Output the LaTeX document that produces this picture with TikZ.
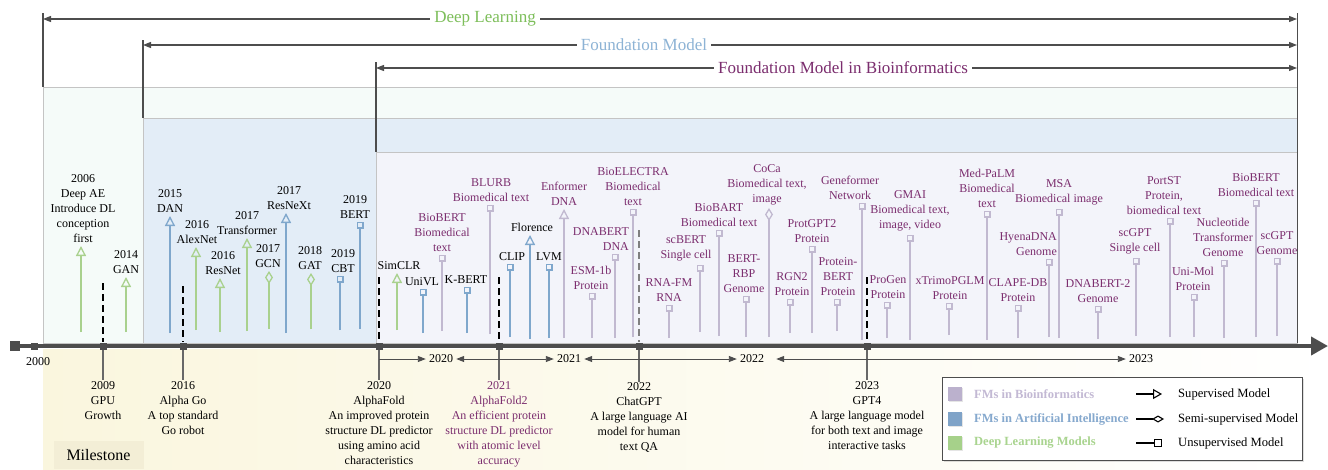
\documentclass[tikz,border=0pt]{standalone}
\usepackage{fontspec}
\setmainfont{Liberation Serif}
\usepackage{tikz}
\usetikzlibrary{arrows.meta,shadows}

\definecolor{dlgreen}{HTML}{A9D18E}
\definecolor{dltext}{HTML}{7DBE5A}
\definecolor{aiblue}{HTML}{7FA7CC}
\definecolor{aitext}{HTML}{8DB3D5}
\definecolor{biogray}{HTML}{C1B9D0}
\definecolor{bioplum}{HTML}{7B2D6E}
\definecolor{mintbg}{HTML}{F5FBF9}
\definecolor{bluebg}{HTML}{E3EDF7}
\definecolor{lavbg}{HTML}{F3F4FA}
\definecolor{creambg}{HTML}{FAF6DE}
\definecolor{milebg}{HTML}{F3EED6}
\definecolor{axisgray}{HTML}{4D4D4D}
\definecolor{framegray}{HTML}{C4C4C4}
\definecolor{legbio}{HTML}{BBB1CD}
\definecolor{legai}{HTML}{7FA3C8}
\definecolor{legdl}{HTML}{A6D18A}
\definecolor{legbiotxt}{HTML}{C3B9D4}
\definecolor{legaitxt}{HTML}{86A9CE}
\definecolor{legdltxt}{HTML}{A9D48F}

\begin{document}
\begin{tikzpicture}[x=1pt,y=-1pt,
    >={Triangle[length=8pt,width=6pt]},
    stem/.style={line width=1.3pt},
    dlstem/.style={stem,draw=dlgreen},
    aistem/.style={stem,draw=aiblue},
    biostem/.style={stem,draw=biogray},
    tri/.style={-{Triangle[open,length=10pt,width=10pt]}},
    dia/.style={-{Turned Square[open,length=13pt,width=8pt]}},
    sq/.style={-{Square[open,length=7pt,width=7pt]}},
    lab/.style={font=\fontsize{12}{15}\selectfont,align=center,anchor=south,inner sep=2.5pt},
    biolab/.style={lab,text=bioplum},
    span/.style={draw=axisgray,line width=1.1pt},
    spantxt/.style={font=\fontsize{17}{19}\selectfont,fill=white,inner sep=4pt},
    mile/.style={fill=axisgray,minimum size=7pt,inner sep=0pt},
    mline/.style={draw=axisgray!85,line width=1.2pt},
    mtxt/.style={font=\fontsize{12}{15}\selectfont,align=center,anchor=north,inner sep=1pt},
    dashln/.style={line width=1.5pt,dash pattern=on 7pt off 4pt},
    yr/.style={draw=axisgray,line width=0.9pt},
    yrtxt/.style={font=\fontsize{12}{14}\selectfont,inner sep=3pt},
    legtxt/.style={font=\fontsize{12.6}{14}\selectfont,anchor=west,inner sep=0pt},
    legbold/.style={font=\bfseries\fontsize{12.5}{14}\selectfont,anchor=west,inner sep=0pt},
    legline/.style={draw=black,line width=1.1pt}]
\useasboundingbox (0,0) rectangle (1328,469);

% background bands
\fill[left color=creambg,right color=white] (43,349) rectangle (1328,469);
\filldraw[fill=mintbg,draw=framegray] (43,87) rectangle (1297,343);
\filldraw[fill=bluebg,draw=framegray] (143,118) rectangle (1297,343);
\filldraw[fill=lavbg,draw=framegray] (376,152) rectangle (1297,343);
\node[fill=milebg,minimum width=90pt,minimum height=28pt,inner sep=0pt,font=\fontsize{16}{18}\selectfont] (milestone) at (98.5,455) {Milestone};

% spans on top
\coordinate (dlL) at (43,19);  \coordinate (dlR) at (1297,19);
\coordinate (fmL) at (143,45); \coordinate (fmR) at (1297,45);
\coordinate (fbL) at (376,68); \coordinate (fbR) at (1297,68);
\draw[span] (43,13) -- (43,87);
\draw[span] (143,40) -- (143,118);
\draw[span] (376,62) -- (376,152);
\draw[span,line width=0.8pt] (1297,13) -- (1297,343);
\draw[span,<->] (dlL) -- (dlR);
\draw[span,<->] (fmL) -- (fmR);
\draw[span,<->] (fbL) -- (fbR);
\node[spantxt,text=dltext] (dltitle) at (485,19) {Deep Learning};
\node[spantxt,text=aitext] (fmtitle) at (644,45) {Foundation Model};
\node[spantxt,text=bioplum] (fbtitle) at (843,68) {Foundation Model in Bioinformatics};

% deep learning models
\draw[dlstem,tri] (81,332) -- (81,246) node[lab] (deepae) at (83,246) {2006\\Deep AE\\Introduce DL\\conception\\first};
\draw[dlstem,tri] (126,332) -- (126,277) node[lab] (gan) at (126,277) {2014\\GAN};
\draw[dlstem,tri] (196,330) -- (196,247) node[lab] (alexnet) at (197,247) {2016\\AlexNet};
\draw[dlstem,tri] (220,332) -- (220,278) node[lab] (resnet) at (223,278) {2016\\ResNet};
\draw[dlstem,tri] (247,331) -- (247,238) node[lab] (transformer) at (247,238) {2017\\Transformer};
\draw[dlstem,dia] (269,329) -- (269,271) node[lab] (gcn) at (268,271) {2017\\GCN};
\draw[dlstem,dia] (311,329) -- (311,273) node[lab] (gat) at (310,273) {2018\\GAT};
\draw[dlstem,tri] (397,330) -- (397,273) node[lab] (simclr) at (399,273) {SimCLR};

% foundation models in AI
\draw[aistem,tri] (170,333) -- (170,216) node[lab] (dan) at (170,216) {2015\\DAN};
\draw[aistem,tri] (286,333) -- (286,213) node[lab] (resnext) at (289,213) {2017\\ResNeXt};
\draw[aistem,sq] (340,330) -- (340,275.5) node[lab] (cbt) at (343,275.5) {2019\\CBT};
\draw[aistem,sq] (360,329) -- (360,221.5) node[lab] (bert) at (355,221.5) {2019\\BERT};
\draw[aistem,sq] (423,333) -- (423,288.5) node[lab] (univl) at (422,288.5) {UniVL};
\draw[aistem,sq] (467,333) -- (467,286.5) node[lab] (kbert) at (466,286.5) {K-BERT};
\draw[aistem,sq] (510,337) -- (510,263.5) node[lab] (clip) at (512,263.5) {CLIP};
\draw[aistem,tri] (530,339) -- (530,235) node[lab] (florence) at (532,235) {Florence};
\draw[aistem,sq] (549,338) -- (549,263.5) node[lab] (lvm) at (549,263.5) {LVM};

% foundation models in bioinformatics
\draw[biostem,sq] (442,331) -- (442,254.5) node[biolab] (biobert) at (442,254.5) {BioBERT\\Biomedical\\text};
\draw[biostem,sq] (490,334) -- (490,204.5) node[biolab] (blurb) at (491,204.5) {BLURB\\Biomedical text};
\draw[biostem,tri] (564,338) -- (564,209) node[biolab] (enformer) at (564,209) {Enformer\\DNA};
\draw[biostem,sq] (592,338) -- (592,292.5) node[biolab] (esm) at (591,292.5) {ESM-1b\\Protein};
\draw[biostem,sq] (615,338) -- (615,253.5) node[biolab,align=right,anchor=south east] (dnabert) at (632,253.5) {DNABERT\\DNA};
\draw[biostem,sq] (633,337) -- (633,208.5) node[biolab] (bioelectra) at (633,208.5) {BioELECTRA\\Biomedical\\text};
\draw[biostem,sq] (669,338) -- (669,304.5) node[biolab] (rnafm) at (669,304.5) {RNA-FM\\RNA};
\draw[biostem,sq] (700,332) -- (700,264.5) node[biolab] (scbert) at (686,264.5) {scBERT\\Single cell};
\draw[biostem,sq] (719,336) -- (719,229.5) node[biolab] (biobart) at (719,229.5) {BioBART\\Biomedical text};
\draw[biostem,sq] (746,337) -- (746,295.5) node[biolab] (bertrbp) at (744,295.5) {BERT-\\RBP\\Genome};
\draw[biostem,dia] (769,337) -- (769,208) node[biolab] (coca) at (767,208) {CoCa\\Biomedical text,\\image};
\draw[biostem,sq] (790,333) -- (790,298.5) node[biolab] (rgn) at (792,298.5) {RGN2\\Protein};
\draw[biostem,sq] (812,333) -- (812,245.5) node[biolab] (protgpt) at (812,245.5) {ProtGPT2\\Protein};
\draw[biostem,sq] (837,331) -- (837,298.5) node[biolab] (proteinbert) at (838,298.5) {Protein-\\BERT\\Protein};
\draw[biostem,sq] (862,340) -- (862,202.5) node[biolab] (geneformer) at (850,202.5) {Geneformer\\Network};
\draw[biostem,sq] (887,338) -- (887,301.5) node[biolab] (progen) at (888,301.5) {ProGen\\Protein};
\draw[biostem,sq] (910,340) -- (910,234.5) node[biolab] (gmai) at (910,234.5) {GMAI\\Biomedical text,\\image, video};
\draw[biostem,sq] (949,335) -- (949,302.5) node[biolab] (xtrimo) at (950,302.5) {xTrimoPGLM\\Protein};
\draw[biostem,sq] (987,340) -- (987,210.5) node[biolab] (medpalm) at (987,210.5) {Med-PaLM\\Biomedical\\text};
\draw[biostem,sq] (1018,338) -- (1018,304.5) node[biolab] (clape) at (1018,304.5) {CLAPE-DB\\Protein};
\draw[biostem,sq] (1049,337) -- (1049,258.5) node[biolab,align=right,anchor=south east] (hyena) at (1060,258.5) {HyenaDNA\\Genome};
\draw[biostem,sq] (1059,338) -- (1059,208.5) node[biolab] (msa) at (1059,208.5) {MSA\\Biomedical image};
\draw[biostem,sq] (1098,339) -- (1098,305.5) node[biolab] (dnabert2) at (1098,305.5) {DNABERT-2\\Genome};
\draw[biostem,sq] (1136,336) -- (1136,257.5) node[biolab] (scgpt) at (1135,257.5) {scGPT\\Single cell};
\draw[biostem,sq] (1170,337) -- (1170,217.5) node[biolab] (portst) at (1164,217.5) {PortST\\Protein,\\biomedical text};
\draw[biostem,sq] (1194,337) -- (1194,293.5) node[biolab] (unimol) at (1193,293.5) {Uni-Mol\\Protein};
\draw[biostem,sq] (1224,338) -- (1224,259.5) node[biolab] (nucleotide) at (1223,259.5) {Nucleotide\\Transformer\\Genome};
\draw[biostem,sq] (1256,337) -- (1256,199.5) node[biolab] (biobert2) at (1256,199.5) {BioBERT\\Biomedical text};
\draw[biostem,sq] (1277,336) -- (1277,257.5) node[biolab] (scgpt2) at (1277,257.5) {scGPT\\Genome};

% time axis
\draw[draw=axisgray,line width=4pt,-{Triangle[length=17pt,width=18pt]}] (15,346) -- (1328,346);
\node[mile,minimum size=10pt] (m0) at (15,346) {};
\node[mile] (m2000) at (34.5,346) {};
\node[mile] (m2009) at (103,346) {};
\node[mile] (m2016) at (183,346) {};
\node[mile] (m2020) at (379,346) {};
\node[mile] (m2021) at (499,346) {};
\node[mile] (m2022) at (639,346) {};
\node[mile] (m2023) at (867,346) {};
\node[font=\fontsize{12}{14}\selectfont] (t2000) at (38,362) {2000};

% dashed markers
\draw[dashln] (103,283) -- (m2009);
\draw[dashln] (183,286) -- (m2016);
\draw[dashln] (379,277) -- (m2020);
\draw[dashln] (499,277) -- (m2021);
\draw[dashln,draw=gray] (639,230) -- (m2022);
\draw[dashln] (867,277) -- (m2023);

% milestones
\node[mtxt] (t2009) at (103,380) {2009\\GPU\\Growth};
\node[mtxt] (t2016) at (183,380) {2016\\Alpha Go\\A top standard\\Go robot};
\node[mtxt] (t2020) at (379,380) {2020\\AlphaFold\\An improved protein\\structure DL predictor\\using amino acid\\characteristics};
\node[mtxt,text=bioplum] (t2021) at (499,380) {2021\\AlphaFold2\\An efficient protein\\structure DL predictor\\with atomic level\\accuracy};
\node[mtxt] (t2022) at (639,381.5) {2022\\ChatGPT\\A large language AI\\model for human\\text QA};
\node[mtxt] (t2023) at (867,380) {2023\\GPT4\\A large language model\\for both text and image\\interactive tasks};
\draw[mline] (m2009) -- (t2009);
\draw[mline] (m2016) -- (t2016);
\draw[mline] (m2020) -- (t2020);
\draw[mline] (m2021) -- (t2021);
\draw[mline] (m2022) -- (t2022);
\draw[mline] (m2023) -- (t2023);

% year ranges
\node[yrtxt] (y2020) at (441,359) {2020};
\node[yrtxt] (y2021) at (569,359) {2021};
\node[yrtxt] (y2022) at (752,359) {2022};
\node[yrtxt] (y2023) at (1141,359) {2023};
\draw[yr,->] (379,359) -- (y2020);
\draw[yr,<->] (y2020) -- (y2021);
\draw[yr,<->] (y2021) -- (y2022);
\draw[yr,<->,shorten <=9pt] (y2022) -- (y2023);

% legend
\draw[draw=axisgray,line width=1pt,fill=white,drop shadow={opacity=0.25}] (942,377) rectangle (1302,460);
\fill[legbio,drop shadow={opacity=0.2,shadow xshift=1pt,shadow yshift=-1pt}] (948,387) rectangle (962,401);
\fill[legai,drop shadow={opacity=0.2,shadow xshift=1pt,shadow yshift=-1pt}] (948,412) rectangle (962,426);
\fill[legdl,drop shadow={opacity=0.2,shadow xshift=1pt,shadow yshift=-1pt}] (948,436) rectangle (962,450);
\node[legbold,text=legbiotxt] (lbio) at (974,394) {FMs in Bioinformatics};
\node[legbold,text=legaitxt] (lai) at (974,419) {FMs in Artificial Intelligence};
\node[legbold,text=legdltxt] (ldl) at (974,443) {Deep Learning Models};
\draw[legline,-{Triangle[open,length=9pt,width=10pt]}] (1136,394) -- (1162,394);
\draw[legline,-{Turned Square[open,length=12pt,width=7pt]}] (1136,419) -- (1164,419);
\draw[legline,-{Square[open,length=8pt,width=8pt]}] (1136,443) -- (1162,443);
\node[legtxt] (lsup) at (1178,394) {Supervised Model};
\node[legtxt] (lsemi) at (1178,419) {Semi-supervised Model};
\node[legtxt] (lunsup) at (1178,443) {Unsupervised Model};
\end{tikzpicture}
\end{document}
